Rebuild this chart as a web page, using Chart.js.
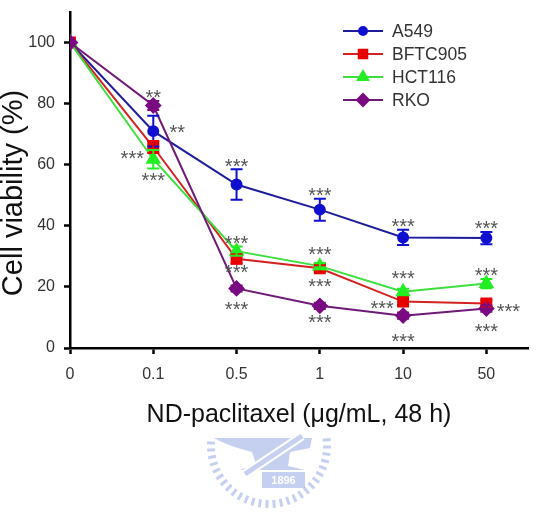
<!DOCTYPE html>
<html>
<head>
<meta charset="utf-8">
<script src="https://cdn.jsdelivr.net/npm/chart.js@4.4.0/dist/chart.umd.min.js"></script>
<style>
  body { margin: 0; background: #fff; }
  #wrap { width: 537px; height: 517px; }
</style>
</head>
<body>
<div id="wrap"><canvas id="viabilityChart" width="537" height="517"></canvas></div>
<script>
// doses on the x axis (µg/mL)
const doses = ['0', '0.1', '0.5', '1', '10', '50'];
const yTicks = [0, 20, 40, 60, 80, 100];

const cellLines = ['A549', 'BFTC905', 'HCT116', 'RKO'];
const a549 = [100, 71, 53.5, 45.3, 36.2, 36];
const bftc905 = [100, 65.8, 29.2, 26.1, 15.2, 14.6];
const hct116 = [100, 61.8, 31.7, 26.8, 18.4, 21.1];
const rko = [100, 79.4, 19.5, 13.8, 10.6, 12.9];

// SEM
const a549Err = [0, 5, 5, 3.6, 2.5, 2];
const bftc905Err = [0, 2, 1.5, 1, 1, 1];
const hct116Err = [0, 3, 1.5, 1, 1, 1.5];
const rkoErr = [0, 1.5, 1, 1, 1, 1];

// significance labels: [series, dose index, text, dx, dy]
const sigLabels = [
  [3, 1, '**', 0, -13], [0, 1, '**', 24, -4], [1, 1, '***', -21, 6], [2, 1, '***', 0, 16],
  [0, 2, '***', 0, -23], [2, 2, '***', 0, -13], [1, 2, '***', 0, 9], [3, 2, '***', 0, 16],
  [0, 3, '***', 0, -19], [2, 3, '***', 0, -17], [1, 3, '***', 0, 13], [3, 3, '***', 0, 12],
  [0, 4, '***', 0, -16], [2, 4, '***', 0, -18], [1, 4, '***', -21, 2], [3, 4, '***', 0, 21],
  [0, 5, '***', 0, -15], [2, 5, '***', 0, -13], [1, 5, '***', 22, 3], [3, 5, '***', 0, 18]
];

const FONT = '"Liberation Sans", Arial, sans-serif';
const lineColors = ['#1c1c9a', '#d42222', '#3ede3e', '#6e1a76'];
const markColors = ['#1010d0', '#e80000', '#22ee22', '#7a0a82'];
const markStyles = ['circle', 'rect', 'triangle', 'rectRot'];
const markSizes = [5, 7, 7, 7];

const seriesVals = [a549, bftc905, hct116, rko];
const seriesErrs = [a549Err, bftc905Err, hct116Err, rkoErr];

const datasets = cellLines.map((name, s) => ({
  label: name,
  data: seriesVals[s].map((v, i) => ({ x: i, y: v })),
  errors: seriesErrs[s],
  borderColor: lineColors[s],
  borderWidth: 2,
  backgroundColor: markColors[s],
  pointBackgroundColor: markColors[s],
  pointBorderColor: markColors[s],
  pointStyle: markStyles[s],
  pointRadius: markSizes[s],
  pointHoverRadius: markSizes[s],
  tension: 0,
  order: 3 - s
}));

const errorBars = {
  id: 'errorBars',
  afterDatasetsDraw(chart) {
    const ctx = chart.ctx;
    const yScale = chart.scales.y;
    chart.data.datasets.forEach((ds, s) => {
      const meta = chart.getDatasetMeta(s);
      meta.data.forEach((pt, i) => {
        const err = ds.errors[i];
        if (!err) return;
        const v = ds.data[i].y;
        const top = yScale.getPixelForValue(v + err);
        const bot = yScale.getPixelForValue(v - err);
        ctx.save();
        ctx.strokeStyle = markColors[s];
        ctx.lineWidth = 2;
        ctx.beginPath();
        ctx.moveTo(pt.x, top); ctx.lineTo(pt.x, bot);
        ctx.moveTo(pt.x - 6, top); ctx.lineTo(pt.x + 6, top);
        ctx.moveTo(pt.x - 6, bot); ctx.lineTo(pt.x + 6, bot);
        ctx.stroke();
        ctx.restore();
      });
    });
  }
};

const sigMarks = {
  id: 'sigMarks',
  afterDatasetsDraw(chart) {
    const ctx = chart.ctx;
    ctx.save();
    ctx.font = '20px ' + FONT;
    ctx.fillStyle = '#555';
    ctx.textAlign = 'center';
    ctx.textBaseline = 'alphabetic';
    sigLabels.forEach(([s, i, txt, dx, dy]) => {
      const pt = chart.getDatasetMeta(s).data[i];
      // asterisk glyphs sit ~11px above the baseline
      ctx.fillText(txt, pt.x + dx, pt.y + dy + 11.5);
    });
    ctx.restore();
  }
};

const titlesAndLegend = {
  id: 'titlesAndLegend',
  beforeDraw(chart) {
    // faint university watermark under the axis title
    const ctx = chart.ctx;
    ctx.save();
    ctx.fillStyle = 'rgba(150,170,230,0.55)';
    ctx.strokeStyle = 'rgba(150,170,230,0.55)';
    const cx = 269, cy = 446, r = 62;
    ctx.lineWidth = 3;
    for (let a = -6; a <= 186; a += 7) {
      const rad = a * Math.PI / 180;
      ctx.beginPath();
      ctx.moveTo(cx + Math.cos(rad) * (r - 8), cy + Math.sin(rad) * (r - 8));
      ctx.lineTo(cx + Math.cos(rad) * r, cy + Math.sin(rad) * r);
      ctx.stroke();
    }
    // anvil
    ctx.beginPath();
    ctx.moveTo(214, 438); ctx.lineTo(312, 438); ctx.lineTo(310, 448);
    ctx.lineTo(290, 452); ctx.lineTo(288, 466); ctx.lineTo(305, 470);
    ctx.lineTo(240, 470); ctx.lineTo(256, 464); ctx.lineTo(252, 452);
    ctx.quadraticCurveTo(228, 446, 214, 438);
    ctx.fill();
    // hammer
    ctx.strokeStyle = '#fff';
    ctx.lineWidth = 9;
    ctx.beginPath(); ctx.moveTo(245, 474); ctx.lineTo(302, 436); ctx.stroke();
    ctx.strokeStyle = 'rgba(150,170,230,0.55)';
    ctx.lineWidth = 5;
    ctx.beginPath(); ctx.moveTo(245, 474); ctx.lineTo(302, 436); ctx.stroke();
    ctx.fillRect(262, 472, 43, 16);
    ctx.fillStyle = '#fff';
    ctx.font = 'bold 11px ' + FONT;
    ctx.textAlign = 'center';
    ctx.textBaseline = 'middle';
    ctx.fillText('1896', 283.5, 480.5);
    ctx.restore();
  },
  afterDraw(chart) {
    const ctx = chart.ctx;
    const area = chart.chartArea;
    ctx.save();
    ctx.fillStyle = '#111';
    ctx.textAlign = 'center';
    ctx.textBaseline = 'middle';
    ctx.font = '25px ' + FONT;
    ctx.fillText('ND-paclitaxel (\u03bcg/mL, 48 h)', (area.left + area.right) / 2, 415);
    ctx.translate(14, 193);
    ctx.rotate(-Math.PI / 2);
    ctx.font = '29px ' + FONT;
    ctx.fillText('Cell viability (%)', 0, 0);
    ctx.restore();

    // legend: line with marker, then name
    ctx.save();
    ctx.font = '17.5px ' + FONT;
    ctx.textBaseline = 'middle';
    chart.data.datasets.forEach((ds, s) => {
      const y = 31 + s * 23;
      ctx.strokeStyle = lineColors[s];
      ctx.lineWidth = 2;
      ctx.beginPath(); ctx.moveTo(343, y); ctx.lineTo(383, y); ctx.stroke();
      ctx.fillStyle = markColors[s];
      ctx.strokeStyle = markColors[s];
      Chart.helpers.drawPoint(ctx, { pointStyle: markStyles[s], radius: markSizes[s] - 1, rotation: 0, borderWidth: 1 }, 363, y);
      ctx.fillStyle = '#333';
      ctx.fillText(ds.label, 392, y + 1);
    });
    ctx.restore();
  }
};

const axisGrid = {
  display: true,
  drawOnChartArea: false,
  drawTicks: true,
  tickLength: 6,
  tickWidth: 2.5,
  tickColor: '#000'
};

new Chart(document.getElementById('viabilityChart'), {
  type: 'line',
  data: { datasets },
  plugins: [titlesAndLegend, errorBars, sigMarks],
  options: {
    responsive: false,
    animation: false,
    layout: { padding: { top: 12, right: 7, left: 0, bottom: 0 } },
    plugins: {
      legend: { display: false },
      tooltip: { enabled: false }
    },
    scales: {
      x: {
        type: 'linear',
        min: 0,
        max: 5.5,
        grid: axisGrid,
        border: { display: true, color: '#000', width: 2.5 },
        ticks: {
          stepSize: 1,
          padding: 11,
          color: '#333',
          font: { family: FONT, size: 16 },
          callback: v => doses[v] !== undefined ? doses[v] : ''
        },
        afterBuildTicks: scale => {
          scale.ticks = scale.ticks.filter(t => Number.isInteger(t.value) && t.value < doses.length);
        },
        afterFit: scale => {
          scale.height = 169;
          scale.paddingLeft = 0;
          scale.paddingRight = 0;
        }
      },
      y: {
        min: 0,
        max: 110,
        grid: axisGrid,
        border: { display: true, color: '#000', width: 2.5 },
        ticks: {
          stepSize: 20,
          padding: 9,
          color: '#333',
          font: { family: FONT, size: 16 }
        },
        afterBuildTicks: scale => {
          scale.ticks = yTicks.map(v => ({ value: v }));
        },
        afterFit: scale => {
          scale.width = 70;
          scale.paddingTop = 0;
          scale.paddingBottom = 0;
        }
      }
    }
  }
});
</script>
</body>
</html>
